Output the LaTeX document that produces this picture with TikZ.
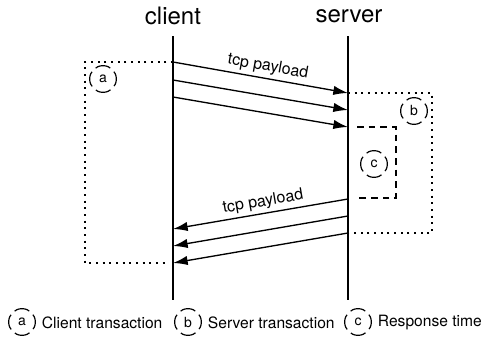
\documentclass[tikz,border=0pt]{standalone}
\usepackage{fontspec}
\setmainfont{TeX Gyre Heros}
\usetikzlibrary{arrows.meta}

\tikzset{every picture/.style={line width=0.75pt}}
\tikzset{
  lifeline/.style={line width=1.1pt},
  msg/.style={line width=1pt,-{Latex[length=11pt,width=7pt]}},
  dotbox/.style={line width=1.1pt,dash pattern={on 1.4pt off 3.6pt}},
  dashbox/.style={line width=1.1pt,dash pattern={on 5pt off 3.75pt}},
  tag/.style={circle,draw,line width=0.9pt,minimum size=20pt,inner sep=0pt,
    dash pattern={on 11.8pt off 3.9pt},dash phase=5.9pt,
    font=\fontsize{10.5}{12}\selectfont},
  head/.style={font=\fontsize{18}{21}\selectfont},
  note/.style={font=\fontsize{12}{14}\selectfont},
  legend/.style={font=\fontsize{11.7}{14}\selectfont,anchor=west},
}

\begin{document}
\begin{tikzpicture}[x=0.75pt,y=0.75pt,yscale=-1,xscale=1]
	\useasboundingbox (0,0) rectangle (486,339);

	% Text Node
	\node [head] (client) at (173,16) {client};
	% Text Node
	\node [head] (server) at (349,16) {server};

	%Straight Lines
	\coordinate (ctop) at (173,36);
	\coordinate (cbot) at (173,300);
	\coordinate (stop) at (348,36);
	\coordinate (sbot) at (348,300);
	\draw [lifeline] (ctop) -- (cbot);
	\draw [lifeline] (stop) -- (sbot);

	% request messages
	\coordinate (c1) at (173,62);
	\coordinate (c2) at (173,80);
	\coordinate (c3) at (173,97);
	\coordinate (s1) at (348,93);
	\coordinate (s2) at (348,110);
	\coordinate (s3) at (348,127);
	\draw [msg] (c1) -- (s1);
	\draw [msg] (c2) -- (s2);
	\draw [msg] (c3) -- (s3);

	% response messages
	\coordinate (s4) at (348,199);
	\coordinate (s5) at (348,216);
	\coordinate (s6) at (348,233);
	\coordinate (c4) at (173,229);
	\coordinate (c5) at (173,246);
	\coordinate (c6) at (173,263);
	\draw [msg] (s4) -- (c4);
	\draw [msg] (s5) -- (c5);
	\draw [msg] (s6) -- (c6);

	% Text Node
	\node [note,rotate=-10] (req) at (268,67) {tcp payload};
	% Text Node
	\node [note,rotate=9.7] (resp) at (263,202) {tcp payload};

	%Shape: open boxes
	\draw [dotbox] (c1) -- (85,62) -- (85,263) -- (165,263);
	\draw [dotbox] (s1) -- (432,93) -- (432,233) -- (s6);
	\draw [dashbox] (357,127) -- (396,127) -- (396,198) -- (357,198);

	% Text Node
	\node [tag] (ta) at (103,79) {a};
	\node [tag] (tb) at (414,111) {b};
	\node [tag] (tc) at (374,164) {c};

	% legend
	\node [tag] (la) at (22,322) {a};
	\node [legend] (lta) at (37,323) {Client transaction};
	\node [tag] (lb) at (188,322) {b};
	\node [legend] (ltb) at (203,323) {Server transaction};
	\node [tag] (lc) at (358,322) {c};
	\node [legend] (ltc) at (373,323) {Response time};

\end{tikzpicture}
\end{document}
